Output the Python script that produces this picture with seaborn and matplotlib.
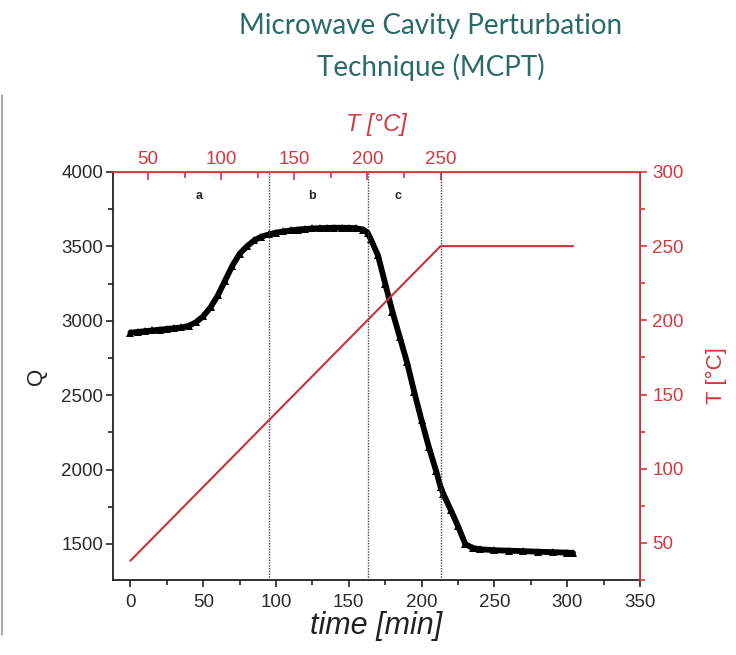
import numpy as np
import pandas as pd
import matplotlib
matplotlib.use("Agg")
import matplotlib.pyplot as plt
from matplotlib.lines import Line2D
from matplotlib.ticker import MultipleLocator, FixedLocator
import seaborn as sns

# ---- data ----
time_min = [0, 5, 10, 15, 20, 25, 30, 35, 40, 45, 50, 55, 60, 65, 70, 75, 80, 85,
            90, 95, 100, 105, 110, 115, 120, 125, 130, 135, 140, 145, 150, 155,
            160, 163, 165, 170, 175, 180, 185, 190, 195, 200, 205, 210, 213, 215,
            220, 225, 230, 235, 240, 250, 260, 270, 280, 290, 300, 304]
Q_vals = [2920, 2925, 2930, 2935, 2940, 2945, 2950, 2955, 2965, 2990, 3030, 3090,
          3170, 3270, 3370, 3450, 3500, 3540, 3565, 3580, 3592, 3600, 3607, 3613,
          3617, 3620, 3622, 3624, 3625, 3625, 3624, 3622, 3612, 3590, 3550, 3440,
          3250, 3060, 2890, 2720, 2520, 2330, 2150, 1990, 1885, 1835, 1730, 1620,
          1500, 1473, 1465, 1458, 1455, 1452, 1448, 1445, 1442, 1440]
time_T = [0, 213, 304]
T_vals = [38, 250, 250]
phase_bounds = [95, 163, 213]
phase_labels = ["a", "b", "c"]
phase_label_x = [47, 125, 184]
top_T_ticks = [50, 100, 150, 200, 250]
top_T_minor = [75, 125, 175, 225]

RED = "#d13a40"
RED_LINE = "#c53339"
TEAL = "#2a6b6a"

sns.set_style("ticks")
plt.rcParams["font.family"] = ["Liberation Sans", "DejaVu Sans"]

fig = plt.figure(figsize=(7.36, 6.55), dpi=100)
ax = fig.add_axes([0.1535, 0.1145, 0.716, 0.623])

dfQ = pd.DataFrame({"time": time_min, "Q": Q_vals})
sns.lineplot(data=dfQ, x="time", y="Q", ax=ax, color="black", lw=4.2,
             marker="^", markersize=6, markeredgewidth=0, legend=False)

ax.set_xlim(-12, 350)
ax.set_ylim(1258, 4000)
ax.xaxis.set_major_locator(MultipleLocator(50))
ax.xaxis.set_minor_locator(MultipleLocator(25))
ax.yaxis.set_major_locator(MultipleLocator(500))
ax.yaxis.set_minor_locator(MultipleLocator(250))
ax.set_yticks([1500, 2000, 2500, 3000, 3500, 4000])
ax.tick_params(axis="both", which="major", direction="out", length=5, width=1.2,
               labelsize=13.5, labelcolor="#2a2a2a", color="#222222", pad=2)
ax.tick_params(axis="both", which="minor", direction="out", length=3.5, width=1.2,
               color="#222222")
ax.tick_params(axis="x", which="major", pad=5)
ax.set_xlabel("time [min]", fontsize=22, style="italic", color="#222222", labelpad=0)
ax.set_ylabel("Q", fontsize=16, color="#222222", labelpad=10)
for s in ["left", "bottom"]:
    ax.spines[s].set_color("#222222")
    ax.spines[s].set_linewidth(1.3)
ax.spines["top"].set_color(RED)
ax.spines["top"].set_linewidth(1.3)

for xb in phase_bounds:
    ax.axvline(xb, color="#444444", lw=1.0, ls=(0, (1, 1)))
for xl, lab in zip(phase_label_x, phase_labels):
    ax.text(xl, 3835, lab, ha="center", va="center", fontsize=9, fontweight="bold")

# right axis: temperature
ax2 = ax.twinx()
dfT = pd.DataFrame({"time": time_T, "T": T_vals})
sns.lineplot(data=dfT, x="time", y="T", ax=ax2, color=RED_LINE, lw=1.5, legend=False)
ax2.set_ylim(25, 300)
ax2.yaxis.set_major_locator(MultipleLocator(50))
ax2.yaxis.set_minor_locator(MultipleLocator(25))
ax2.set_yticks([50, 100, 150, 200, 250, 300])
ax2.tick_params(axis="y", which="major", direction="out", length=5, width=1.2,
                labelsize=13.5, colors=RED, pad=4)
ax2.tick_params(axis="y", which="minor", direction="out", length=3.5, width=1.2, colors=RED)
ax2.set_ylabel("T [°C]", fontsize=16, color=RED, labelpad=16)
ax2.spines["right"].set_color(RED)
ax2.spines["right"].set_linewidth(1.3)
ax2.spines["top"].set_color(RED)
ax2.spines["left"].set_visible(False)
ax2.spines["bottom"].set_visible(False)

# top axis: temperature ramp mapping
slope = (T_vals[1] - T_vals[0]) / (time_T[1] - time_T[0])
sec = ax.secondary_xaxis("top", functions=(lambda t: T_vals[0] + slope * np.asarray(t),
                                            lambda T: (np.asarray(T) - T_vals[0]) / slope))
sec.xaxis.set_major_locator(FixedLocator(top_T_ticks))
sec.xaxis.set_minor_locator(FixedLocator(top_T_minor))
sec.tick_params(axis="x", which="major", direction="in", length=6, width=1.2,
                labelsize=13.5, colors=RED, pad=3)
sec.tick_params(axis="x", which="minor", direction="in", length=4, width=1.2, colors=RED)
sec.spines["top"].set_color(RED)
sec.set_xlabel("T [°C]", fontsize=17, style="italic", color=RED, labelpad=14)

fig.text(0.585, 0.98, "Microwave Cavity Perturbation\nTechnique (MCPT)", ha="center",
         va="top", fontsize=20, color=TEAL, family=["Lato", "DejaVu Sans"],
         linespacing=1.62)

fig.add_artist(Line2D([0.003, 0.003], [0.03, 0.855], transform=fig.transFigure,
                      color="#9a9a9a", lw=1.2))

fig.savefig("out.png", dpi=100)
